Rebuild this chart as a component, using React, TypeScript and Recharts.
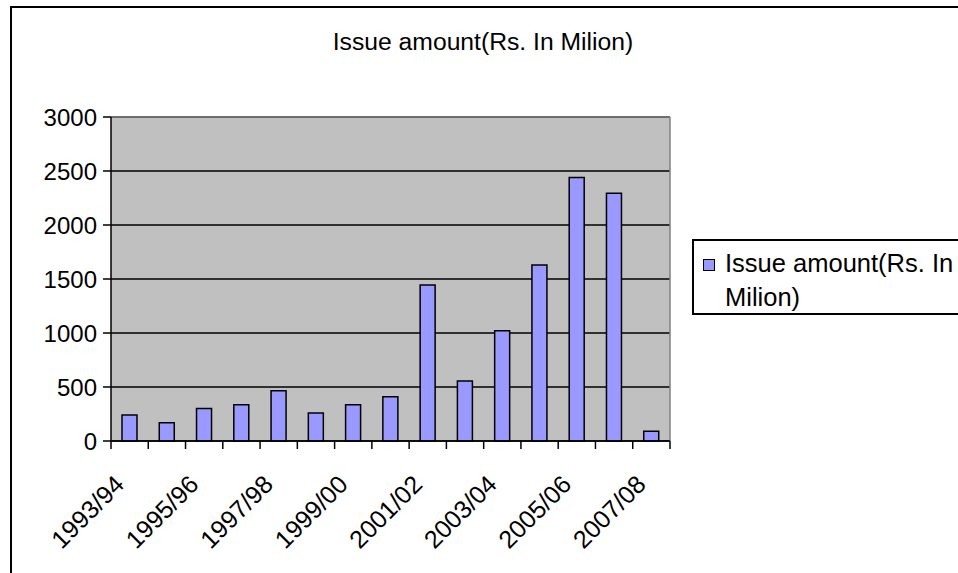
import { BarChart, Bar, XAxis, YAxis, CartesianGrid, Legend } from 'recharts'

const YEARS = [
  '1993/94', '1994/95', '1995/96', '1996/97', '1997/98', '1998/99', '1999/00', '2000/01',
  '2001/02', '2002/03', '2003/04', '2004/05', '2005/06', '2006/07', '2007/08',
]
const ISSUE_AMOUNT = [240, 170, 300, 335, 465, 260, 335, 410, 1445, 555, 1020, 1630, 2440, 2295, 90]
const Y_TICKS = [0, 500, 1000, 1500, 2000, 2500, 3000]
const SERIES_NAME = 'Issue amount(Rs. In Milion)'
const TITLE = 'Issue amount(Rs. In Milion)'

const data = YEARS.map((year, i) => ({ year, amount: ISSUE_AMOUNT[i] }))

const FONT = '"Liberation Sans", Arial, sans-serif'

// hoisted styles
const pageStyle = {
  position: 'absolute' as const, left: 0, top: 0, width: 958, height: 573,
  overflow: 'hidden', background: '#fff', fontFamily: FONT,
}
const frameStyle = {
  position: 'absolute' as const, left: 10, top: 6, width: 980, height: 600,
  border: '2px solid #000', pointerEvents: 'none' as const,
}
const titleStyle = {
  position: 'absolute' as const, left: 0, top: 29, width: 966, textAlign: 'center' as const,
  fontSize: 24.7, lineHeight: '26px', color: '#000',
}
const chartMargin = { top: 117, right: 288, bottom: 32, left: 11 }
const yTickStyle = { fontSize: 24, fill: '#000', fontFamily: FONT }
const blackLine = { stroke: '#000', strokeWidth: 1.5 }
const legendWrap = { left: 692, top: 239, width: 290, height: 76 }
const legendBox = {
  position: 'relative' as const, width: 286, height: 72, border: '2px solid #000',
  background: '#fff', fontFamily: FONT,
}
const swatch = {
  position: 'absolute' as const, left: 9, top: 18, width: 10, height: 10,
  background: '#9999FF', border: '1px solid #000',
}
const legendText = {
  position: 'absolute' as const, left: 31, top: 5, width: 245,
  fontSize: 25.5, lineHeight: '34px', color: '#000',
}

function YearTick(props: any) {
  const { x, y, payload, index, visibleTicksCount } = props
  const half = payload?.offset ?? 0
  const ax = x - 4
  const ay = y + 45
  return (
    <g>
      <line x1={x - half} x2={x - half} y1={y} y2={y + 8} stroke="#000" strokeWidth={1.5} />
      {index === visibleTicksCount - 1 && (
        <line x1={x + half} x2={x + half} y1={y} y2={y + 8} stroke="#000" strokeWidth={1.5} />
      )}
      {index % 2 === 0 && (
        <text x={ax} y={ay} textAnchor="end" fontSize={25} fontFamily={FONT} fill="#000"
          transform={`rotate(-45, ${ax}, ${ay})`}>
          {payload.value}
        </text>
      )}
    </g>
  )
}

function LegendBox(props: any) {
  const name = props.payload?.[0]?.value ?? SERIES_NAME
  return (
    <div style={legendBox}>
      <span style={swatch} />
      <div style={legendText}>{name}</div>
    </div>
  )
}

export default function App() {
  return (
    <div style={pageStyle}>
      <div style={titleStyle}>{TITLE}</div>
      <BarChart width={958} height={573} data={data} margin={chartMargin} barCategoryGap="0%">
        <CartesianGrid vertical={false} stroke="#000" strokeWidth={1.5} fill="#C0C0C0" fillOpacity={1} />
        <CartesianGrid horizontalPoints={[117]} verticalPoints={[670]} stroke="#808080" strokeWidth={1.5} />
        <XAxis dataKey="year" interval={0} height={100} tickLine={false} tickSize={0} tickMargin={0}
          axisLine={blackLine} tick={<YearTick />} />
        <YAxis domain={[0, 3000]} ticks={Y_TICKS} width={100} tick={yTickStyle}
          tickSize={8} tickMargin={6} tickLine={blackLine} axisLine={blackLine} />
        <Legend layout="vertical" align="center" verticalAlign="middle"
          wrapperStyle={legendWrap} content={<LegendBox />} />
        <Bar dataKey="amount" name={SERIES_NAME} fill="#9999FF" stroke="#000" strokeWidth={1.5}
          barSize={15} isAnimationActive={false} />
      </BarChart>
      <div style={frameStyle} />
    </div>
  )
}
